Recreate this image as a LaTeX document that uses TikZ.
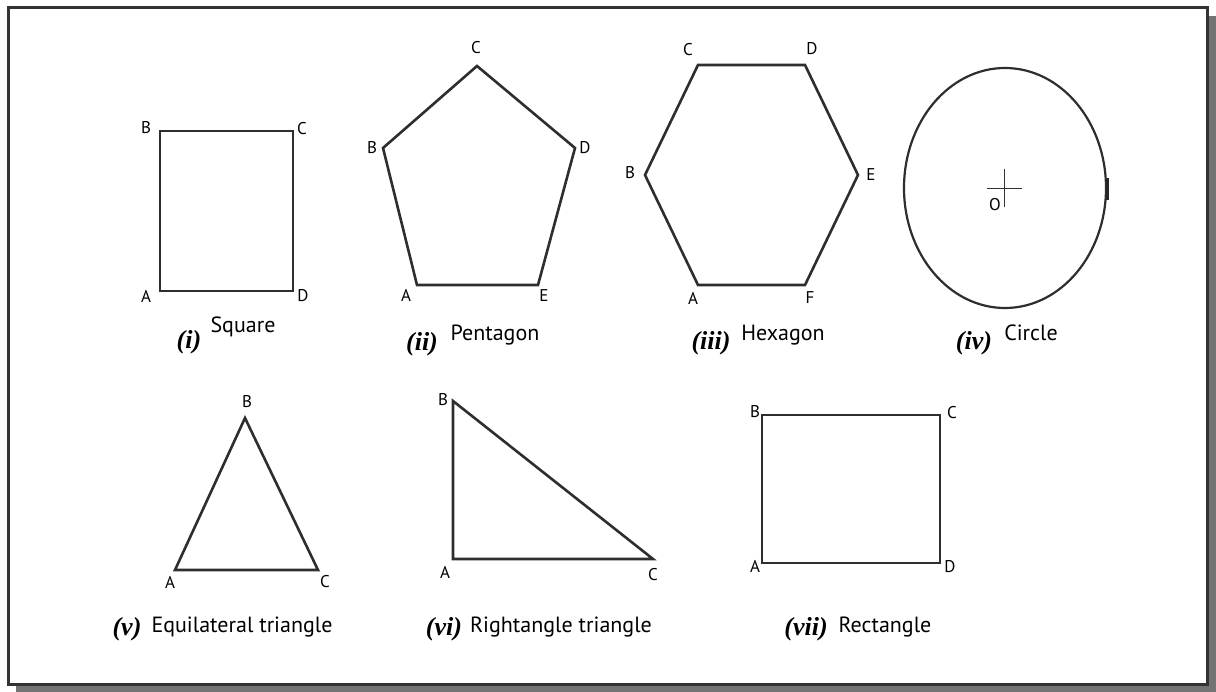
\documentclass[tikz,border=0pt]{standalone}
\usepackage{fontspec}
\usepackage{tikz}
\usetikzlibrary{calc}
\newfontfamily\lblfont{PT Sans}
\newfontfamily\numfont{Liberation Serif}
\tikzset{fig/.style={line width=2.6pt,black!82,line join=miter},
         lbl/.style={font=\lblfont\fontsize{17}{17}\selectfont,inner sep=0pt},
         capnum/.style={font=\numfont\fontsize{26}{26}\selectfont\bfseries\itshape,inner sep=0pt},
         captxt/.style={font=\lblfont\fontsize{22}{22}\selectfont,inner sep=0pt}}

\begin{document}
\begin{tikzpicture}[x=1pt,y=-1pt]
  \useasboundingbox (0,0) rectangle (1216,692);
  \fill[black!55] (16,16) rectangle (1216,692);
  \draw[fill=white,draw=black!80,line width=3pt] (8,8) rectangle (1207,684);
  % (i) square
  \coordinate (sqA) at (160,291); \coordinate (sqB) at (160,131);
  \coordinate (sqC) at (293,131); \coordinate (sqD) at (293,291);
  \draw[fig] (sqA)--(sqB)--(sqC)--(sqD)--cycle;
  \node[lbl] (lsqB) at (146,128) {B}; \node[lbl] (lsqC) at (302,129) {C};
  \node[lbl] (lsqA) at (146,296) {A}; \node[lbl] (lsqD) at (303,296) {D};
  \node[capnum] (nsq) at (189,342) {(i)};
  \node[captxt] (tsq) at (243,327) {Square};
  % (ii) pentagon
  \coordinate (peA) at (417,285); \coordinate (peB) at (383,148);
  \coordinate (peC) at (477,66); \coordinate (peD) at (575,148);
  \coordinate (peE) at (538,285);
  \draw[fig] (peA)--(peB)--(peC)--(peD)--(peE)--cycle;
  \node[lbl] (lpeC) at (476,48) {C}; \node[lbl] (lpeB) at (372,148) {B};
  \node[lbl] (lpeD) at (585,148) {D}; \node[lbl] (lpeA) at (406,295) {A};
  \node[lbl] (lpeE) at (544,296) {E};
  \node[capnum] (npe) at (422,344) {(ii)};
  \node[captxt] (tpe) at (495,335) {Pentagon};
  % (iii) hexagon
  \coordinate (hxA) at (698,285); \coordinate (hxB) at (645,175);
  \coordinate (hxC) at (698,65); \coordinate (hxD) at (805,65);
  \coordinate (hxE) at (858,175); \coordinate (hxF) at (805,285);
  \draw[fig] (hxA)--(hxB)--(hxC)--(hxD)--(hxE)--(hxF)--cycle;
  \node[lbl] (lhxC) at (688,50) {C}; \node[lbl] (lhxD) at (812,49) {D};
  \node[lbl] (lhxB) at (630,173) {B}; \node[lbl] (lhxE) at (871,175) {E};
  \node[lbl] (lhxA) at (693,298) {A}; \node[lbl] (lhxF) at (810,298) {F};
  \node[capnum] (nhx) at (711,343) {(iii)};
  \node[captxt] (thx) at (783,335) {Hexagon};
  % (iv) circle
  \coordinate (ciO) at (1005,188);
  \draw[fig,line width=2.2pt] (ciO) ellipse [x radius=101,y radius=120];
  \draw[line width=1pt,black!80] (987,189)--(1022,189) (1004,169)--(1004,207);
  \draw[line width=3pt,black!85] (1107,178)--(1107,200);
  \node[lbl] (lciO) at (995,205) {O};
  \node[capnum] (nci) at (974,343) {(iv)};
  \node[captxt] (tci) at (1031,333) {Circle};
  % (v) equilateral triangle
  \coordinate (etA) at (175,570); \coordinate (etB) at (245,418);
  \coordinate (etC) at (318,570);
  \draw[fig] (etA)--(etB)--(etC)--cycle;
  \node[lbl] (letB) at (247,402) {B}; \node[lbl] (letA) at (170,582) {A};
  \node[lbl] (letC) at (325,582) {C};
  \node[capnum] (net) at (127,629) {(v)};
  \node[captxt] (tet) at (242,627) {Equilateral triangle};
  % (vi) rightangle triangle
  \coordinate (rtA) at (453,559); \coordinate (rtB) at (453,401);
  \coordinate (rtC) at (653,559);
  \draw[fig] (rtA)--(rtB)--(rtC)--cycle;
  \node[lbl] (lrtB) at (443,400) {B}; \node[lbl] (lrtA) at (445,572) {A};
  \node[lbl] (lrtC) at (653,575) {C};
  \node[capnum] (nrt) at (444,629) {(vi)};
  \node[captxt] (trt) at (561,627) {Rightangle triangle};
  % (vii) rectangle
  \coordinate (reA) at (762,563); \coordinate (reB) at (762,415);
  \coordinate (reC) at (940,415); \coordinate (reD) at (940,563);
  \draw[fig] (reA)--(reB)--(reC)--(reD)--cycle;
  \node[lbl] (lreB) at (755,412) {B}; \node[lbl] (lreC) at (952,413) {C};
  \node[lbl] (lreA) at (755,566) {A}; \node[lbl] (lreD) at (950,567) {D};
  \node[capnum] (nre) at (806,629) {(vii)};
  \node[captxt] (tre) at (885,627) {Rectangle};
\end{tikzpicture}
\end{document}
